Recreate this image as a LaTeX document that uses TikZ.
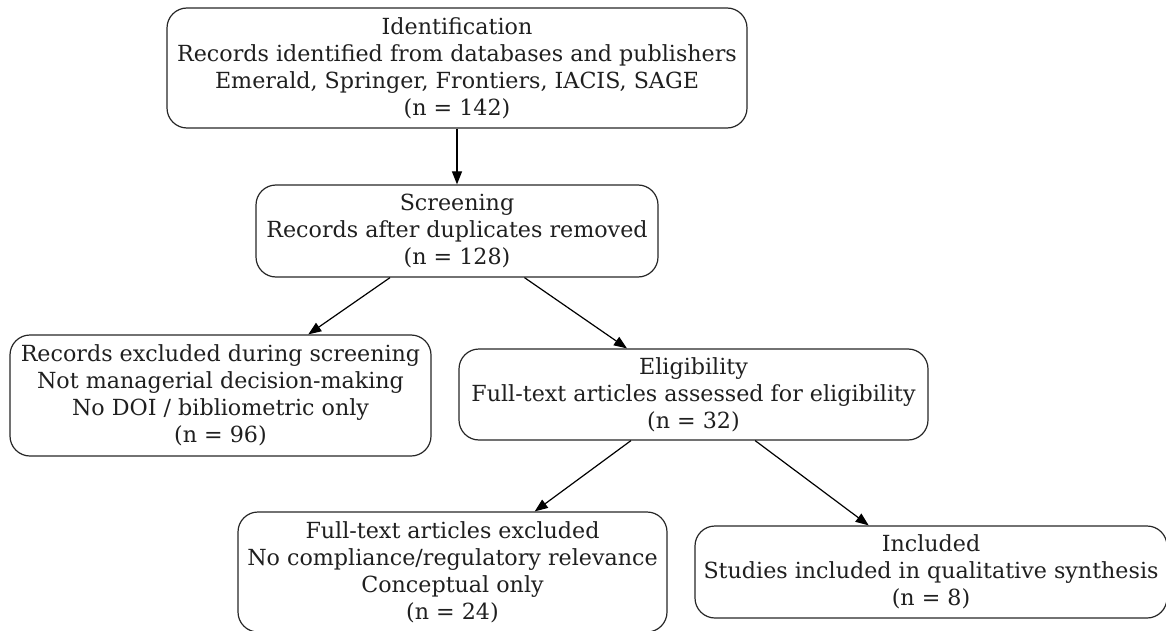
\documentclass[tikz,border=0pt]{standalone}
\usepackage{fontspec}
\setmainfont{DejaVu Serif}
\usetikzlibrary{arrows.meta}
\tikzset{
  box/.style={draw=black!85, line width=1.2pt, rounded corners=20pt, align=center,
    inner sep=0pt, font=\fontsize{22.2pt}{27pt}\selectfont, text=black!88},
  link/.style={draw=black, line width=1.2pt, -{Triangle[length=13pt,width=10pt]}}
}
\begin{document}
\begin{tikzpicture}[x=1pt,y=1pt]
\useasboundingbox (0,0) rectangle (1166,-631);
\node[box, minimum width=580pt, minimum height=120pt] (ident) at (457,-68)
  {Identification\\Records identified from databases and publishers\\Emerald, Springer, Frontiers, IACIS, SAGE\\(n = 142)};
\node[box, minimum width=402pt, minimum height=92pt] (screen) at (457,-231)
  {Screening\\Records after duplicates removed\\(n = 128)};
\node[box, minimum width=421pt, minimum height=121pt] (excl1) at (220.5,-395.5)
  {Records excluded during screening\\Not managerial decision-making\\No DOI / bibliometric only\\(n = 96)};
\node[box, minimum width=469pt, minimum height=91pt] (elig) at (693.5,-394.5)
  {Eligibility\\Full-text articles assessed for eligibility\\(n = 32)};
\node[box, minimum width=429pt, minimum height=120pt] (excl2) at (452.5,-572)
  {Full-text articles excluded\\No compliance/regulatory relevance\\Conceptual only\\(n = 24)};
\node[box, minimum width=472pt, minimum height=92pt] (incl) at (931,-572)
  {Included\\Studies included in qualitative synthesis\\(n = 8)};
\draw[link] (ident) -- (screen);
\draw[link] (screen) -- (excl1);
\draw[link] (screen) -- (elig);
\draw[link] (elig) -- (excl2);
\draw[link] (elig) -- (incl);
\end{tikzpicture}
\end{document}
